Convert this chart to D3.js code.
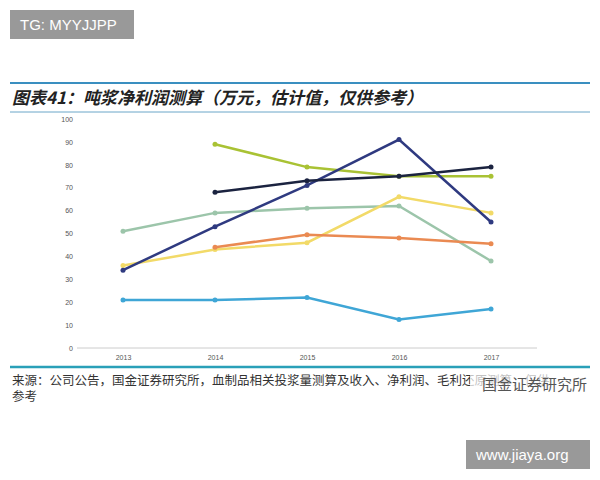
<!DOCTYPE html><html><head><meta charset="utf-8"><script src="https://cdn.jsdelivr.net/npm/d3@7"></script>
<style>body{margin:0;background:#fff}</style></head><body><svg id="c" width="600" height="480"></svg>
<script>
const years=["2013","2014","2015","2016","2017"];
const yTicks=[0,10,20,30,40,50,60,70,80,90,100];
const navy=[34,53,71,91,55];
const black=[null,68,73,75,79];
const olive=[null,89,79,75,75];
const sage=[51,59,61,62,38];
const yellow=[36,43,46,66,59];
const orange=[null,44,49.5,48,45.5];
const blue=[21,21,22,12.5,17];
const series=[[sage,"#9cc5aa"],[yellow,"#f2da68"],[orange,"#ea8a52"],[blue,"#3fa6d6"],[olive,"#a9c234"],[navy,"#2f3a80"],[black,"#1b2340"]];
const svg=d3.select("#c");
const x=d3.scalePoint().domain(years).range([123,491]);
const y=d3.scaleLinear().domain([0,100]).range([348,119]);
svg.append("line").attr("x1",10).attr("x2",590).attr("y1",83).attr("y2",83).attr("stroke","#3a8fc0").attr("stroke-width",2);
svg.append("line").attr("x1",10).attr("x2",590).attr("y1",112).attr("y2",112).attr("stroke","#6aa6c8").attr("stroke-width",1);
svg.append("text").attr("x",12).attr("y",104).attr("font-family","Noto Sans CJK SC").attr("font-size",17).attr("font-weight","bold").attr("font-style","italic").attr("fill","#222").text("图表41：吨浆净利润测算（万元，估计值，仅供参考）");
const ya=svg.append("g").attr("transform","translate(77,0)").call(d3.axisLeft(y).tickValues(yTicks).tickSize(0).tickPadding(4));
ya.select(".domain").remove();
ya.selectAll("text").attr("font-size",7).attr("fill","#555").attr("font-family","Liberation Sans");
const xa=svg.append("g").attr("transform","translate(0,348)").call(d3.axisBottom(x).tickSize(0).tickPadding(7));
xa.select(".domain").attr("d","M77,0H537").attr("stroke","#ccc");
xa.selectAll("text").attr("font-size",7).attr("fill","#555").attr("font-family","Liberation Sans");
const line=d3.line().defined(d=>d[1]!=null).x(d=>x(d[0])).y(d=>y(d[1]));
series.forEach(([vals,c])=>{
 const pts=years.map((yr,i)=>[yr,vals[i]]);
 svg.append("path").attr("d",line(pts)).attr("fill","none").attr("stroke",c).attr("stroke-width",2.5);
 svg.selectAll(null).data(pts.filter(p=>p[1]!=null)).enter().append("circle").attr("cx",d=>x(d[0])).attr("cy",d=>y(d[1])).attr("r",2.5).attr("fill",c);
});
svg.append("line").attr("x1",10).attr("x2",590).attr("y1",367).attr("y2",367).attr("stroke","#2aa0b8").attr("stroke-width",2.5);
svg.append("text").attr("x",12).attr("y",385).attr("font-family","Noto Sans CJK SC").attr("font-size",12.5).attr("fill","#333").text("来源：公司公告，国金证券研究所，血制品相关投浆量测算及收入、净利润、毛利还原测算，仅供");
svg.append("text").attr("x",12).attr("y",401).attr("font-family","Noto Sans CJK SC").attr("font-size",12.5).attr("fill","#333").text("参考");
svg.append("rect").attr("x",470).attr("y",374).attr("width",120).attr("height",20).attr("fill","#fff").attr("opacity",0.7);
svg.append("text").attr("x",482).attr("y",390).attr("font-family","Noto Sans CJK SC").attr("font-size",15).attr("fill","#555").text("国金证券研究所");
svg.append("rect").attr("x",10).attr("y",10).attr("width",124).attr("height",29).attr("fill","#999");
svg.append("text").attr("x",20).attr("y",30).attr("font-family","Liberation Sans").attr("font-size",15).attr("fill","#fff").text("TG: MYYJJPP");
svg.append("rect").attr("x",466).attr("y",440).attr("width",124).attr("height",29).attr("fill","#999");
svg.append("text").attr("x",476).attr("y",460).attr("font-family","Liberation Sans").attr("font-size",15).attr("fill","#fff").text("www.jiaya.org");
</script></body></html>
